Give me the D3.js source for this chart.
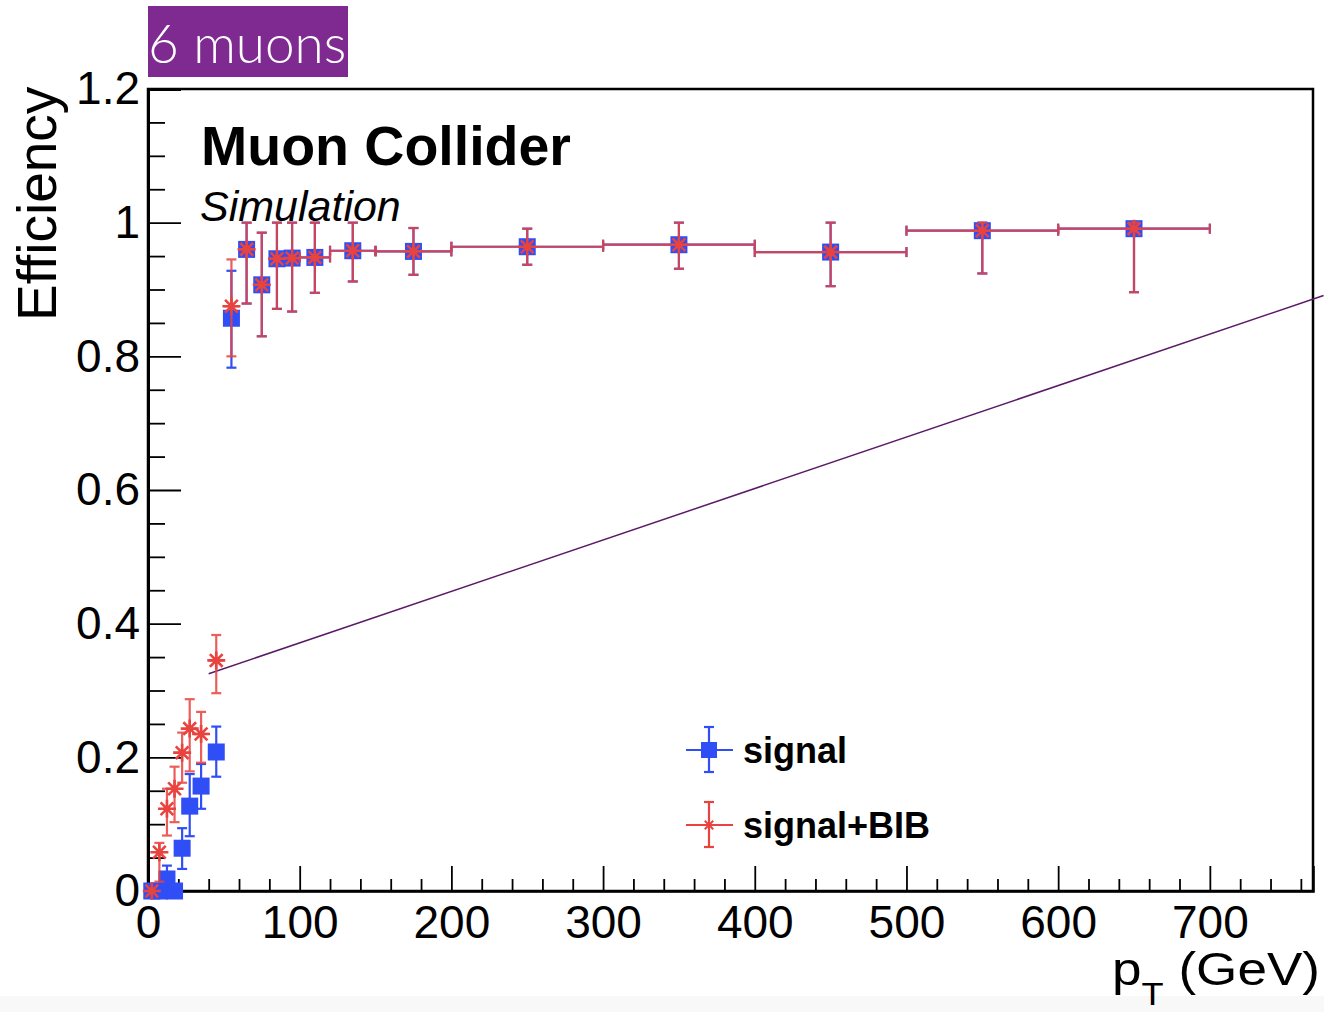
<!DOCTYPE html>
<html>
<head>
<meta charset="utf-8">
<script src="https://cdn.jsdelivr.net/npm/d3@7"></script>
<style>
  body { margin: 0; background: #fff; }
  svg { display: block; }
  text { font-family: "Liberation Sans", Arial, sans-serif; }
</style>
</head>
<body>
<svg id="chart" width="1324" height="1012"></svg>
<script>
// bin centres and half widths (GeV)
const binCenter = [2.5, 7.5, 12.5, 17.5, 22.5, 27.5, 35, 45, 55, 65, 75, 85, 95, 110, 135, 175, 250, 350, 450, 550, 650];
const binHalf   = [2.5, 2.5, 2.5, 2.5, 2.5, 2.5, 5, 5, 5, 5, 5, 5, 5, 10, 15, 25, 50, 50, 50, 50, 50];

// signal (blue)
const sigEff = [0, 0, 0.018, 0, 0.064, 0.127, 0.157, 0.208, 0.857, 0.960, 0.907, 0.946, 0.947, 0.948, 0.958, 0.957, 0.964, 0.967, 0.956, 0.988, 0.991];
const sigUp  = [0, 0, 0.020, 0, 0.030, 0.048, 0.033, 0.038, 0.071, 0.040, 0.078, 0.054, 0.053, 0.052, 0.042, 0.035, 0.027, 0.033, 0.044, 0.012, 0.009];
const sigLo  = [0, 0, 0.018, 0, 0.031, 0.045, 0.034, 0.037, 0.074, 0.081, 0.077, 0.075, 0.080, 0.053, 0.046, 0.035, 0.027, 0.036, 0.051, 0.064, 0.095];

// signal+BIB (red)
const bibEff = [0, 0.058, 0.123, 0.153, 0.207, 0.243, 0.235, 0.345, 0.875, 0.960, 0.907, 0.946, 0.947, 0.948, 0.958, 0.957, 0.964, 0.967, 0.956, 0.988, 0.991];
const bibUp  = [0, 0.014, 0.030, 0.033, 0.030, 0.044, 0.033, 0.038, 0.070, 0.040, 0.078, 0.054, 0.053, 0.052, 0.042, 0.035, 0.027, 0.033, 0.044, 0.012, 0.009];
const bibLo  = [0, 0.044, 0.040, 0.050, 0.045, 0.064, 0.043, 0.049, 0.075, 0.081, 0.077, 0.075, 0.080, 0.053, 0.046, 0.035, 0.027, 0.036, 0.051, 0.064, 0.095];

const xTicks = [0, 100, 200, 300, 400, 500, 600, 700];
const xTickLabels = ["0", "100", "200", "300", "400", "500", "600", "700"];
const yTicks = [0, 0.2, 0.4, 0.6, 0.8, 1.0, 1.2];
const yTickLabels = ["0", "0.2", "0.4", "0.6", "0.8", "1", "1.2"];

// annotation line (data coords)
const arrowFrom = [40, 0.325];
const arrowTo = [775, 0.891];

const blue = "#2f4ef6";
const red = "#e8433f";

const svg = d3.select("#chart");
const W = 1324, H = 1012;
const fLeft = 148, fTop = 89, fRight = 1313, fBottom = 891;

svg.append("rect").attr("x", 0).attr("y", 996).attr("width", W).attr("height", H - 996).attr("fill", "#f8f8f8");

const x = d3.scaleLinear().domain([0, 768]).range([fLeft, fRight]);
const y = d3.scaleLinear().domain([0, 1.2]).range([fBottom, fTop]);

// title box
svg.append("rect").attr("x", 148).attr("y", 6).attr("width", 200).attr("height", 71).attr("fill", "#7f2a90");
svg.append("text").attr("x", 148).attr("y", 63)
    .style("font-family", "Lato, 'Open Sans', sans-serif").style("font-weight", 300)
    .attr("font-size", 53).attr("fill", "#fff").text("6 muons");

// frame
svg.append("rect").attr("x", fLeft).attr("y", fTop).attr("width", fRight - fLeft).attr("height", fBottom - fTop)
    .attr("fill", "none").attr("stroke", "#000").attr("stroke-width", 2.5);

// x axis
const xMinor = d3.range(0, 769, 20).filter(v => v % 100 !== 0);
svg.append("g").attr("transform", `translate(0,${fBottom})`)
    .call(d3.axisBottom(x).tickValues(xMinor).tickSize(-12).tickFormat(""))
    .call(g => g.select(".domain").remove());
svg.append("g").attr("transform", `translate(0,${fBottom})`)
    .call(d3.axisBottom(x).tickValues(xTicks).tickSize(-25).tickPadding(14)
        .tickFormat((d, i) => xTickLabels[i]))
    .call(g => g.select(".domain").attr("stroke-width", 2.5))
    .call(g => g.selectAll("text").attr("font-size", 46).attr("fill", "#000")
        .style("font-family", "'Liberation Sans', Arial, sans-serif"));
svg.selectAll(".tick line").attr("stroke-width", 1.8);

// y axis
const yMinor = d3.range(0, 1.2001, 0.05).filter((v, i) => i % 4 !== 0);
svg.append("g").attr("transform", `translate(${fLeft},0)`)
    .call(d3.axisLeft(y).tickValues(yMinor).tickSize(-17).tickFormat(""))
    .call(g => g.select(".domain").remove())
    .call(g => g.selectAll("line").attr("stroke-width", 1.8));
svg.append("g").attr("transform", `translate(${fLeft},0)`)
    .call(d3.axisLeft(y).tickValues(yTicks).tickSize(-33).tickPadding(8)
        .tickFormat((d, i) => yTickLabels[i]))
    .call(g => g.select(".domain").attr("stroke-width", 3))
    .call(g => g.selectAll("line").attr("stroke-width", 1.8))
    .call(g => g.selectAll("text").attr("font-size", 46).attr("fill", "#000")
        .style("font-family", "'Liberation Sans', Arial, sans-serif"));

// axis titles
svg.append("text").attr("transform", "translate(56,321) rotate(-90)")
    .attr("font-size", 55).attr("fill", "#000").text("Efficiency");
const xt = svg.append("g").attr("transform", "translate(1320,985) scale(1.13,1)")
    .append("text").attr("text-anchor", "end").attr("font-size", 47).attr("fill", "#000");
xt.append("tspan").text("p");
xt.append("tspan").attr("font-size", 32).attr("dy", 20).text("T");
xt.append("tspan").attr("dy", -20).text(" (GeV)");

// labels
svg.append("text").attr("x", 201).attr("y", 165).attr("font-size", 55.5).attr("font-weight", "bold")
    .attr("fill", "#000").text("Muon Collider");
svg.append("text").attr("x", 200).attr("y", 221).attr("font-size", 43).attr("font-style", "italic")
    .attr("fill", "#000").text("Simulation");

// annotation line
svg.append("line")
    .attr("x1", x(arrowFrom[0])).attr("y1", y(arrowFrom[1]))
    .attr("x2", x(arrowTo[0])).attr("y2", y(arrowTo[1]))
    .attr("stroke", "#5a1a66").attr("stroke-width", 1.5);

function makeData(eff, up, lo) {
    return binCenter.map((c, i) => ({ x: c, hw: binHalf[i], y: eff[i], up: up[i], lo: lo[i] }));
}
const sigData = makeData(sigEff, sigUp, sigLo);
const bibData = makeData(bibEff, bibUp, bibLo);

const cap = 5;
function drawErrors(data, color, opacity) {
    const g = svg.append("g").attr("stroke", color).attr("stroke-width", 2.2).attr("opacity", opacity);
    data.forEach(d => {
        const cx = x(d.x), cy = y(d.y);
        const x0 = x(d.x - d.hw), x1 = x(d.x + d.hw);
        g.append("line").attr("x1", x0).attr("x2", x1).attr("y1", cy).attr("y2", cy);
        if (x1 - x0 > 20) {
            g.append("line").attr("x1", x0).attr("x2", x0).attr("y1", cy - cap).attr("y2", cy + cap);
            g.append("line").attr("x1", x1).attr("x2", x1).attr("y1", cy - cap).attr("y2", cy + cap);
        }
        if (d.up > 0 || d.lo > 0) {
            const yt = y(d.y + d.up), yb = y(d.y - d.lo);
            g.append("line").attr("x1", cx).attr("x2", cx).attr("y1", yt).attr("y2", yb);
            g.append("line").attr("x1", cx - cap).attr("x2", cx + cap).attr("y1", yt).attr("y2", yt);
            g.append("line").attr("x1", cx - cap).attr("x2", cx + cap).attr("y1", yb).attr("y2", yb);
        }
    });
}

function starPath(r) {
    const p = [];
    for (let k = 0; k < 4; k++) {
        const a = k * Math.PI / 4;
        p.push(`M${(-r * Math.cos(a)).toFixed(2)},${(-r * Math.sin(a)).toFixed(2)}L${(r * Math.cos(a)).toFixed(2)},${(r * Math.sin(a)).toFixed(2)}`);
    }
    return p.join("");
}

drawErrors(sigData, blue, 1);
svg.append("g").selectAll("rect").data(sigData).join("rect")
    .attr("x", d => x(d.x) - 8.5).attr("y", d => y(d.y) - 8.5)
    .attr("width", 17).attr("height", 17).attr("fill", blue);

drawErrors(bibData, red, 0.85);
svg.append("g").selectAll("path").data(bibData).join("path")
    .attr("transform", d => `translate(${x(d.x)},${y(d.y)})`)
    .attr("d", starPath(9)).attr("stroke", red).attr("stroke-width", 2.6).attr("fill", "none");

// legend
const legend = [
    { label: "signal", color: blue, cy: 750, type: "square" },
    { label: "signal+BIB", color: red, cy: 825, type: "star" }
];
legend.forEach(l => {
    const g = svg.append("g").attr("stroke", l.color).attr("stroke-width", 2.2);
    g.append("line").attr("x1", 686).attr("x2", 733).attr("y1", l.cy).attr("y2", l.cy);
    g.append("line").attr("x1", 709).attr("x2", 709).attr("y1", l.cy - 23).attr("y2", l.cy + 22);
    g.append("line").attr("x1", 704).attr("x2", 714).attr("y1", l.cy - 23).attr("y2", l.cy - 23);
    g.append("line").attr("x1", 704).attr("x2", 714).attr("y1", l.cy + 22).attr("y2", l.cy + 22);
    if (l.type === "square") {
        svg.append("rect").attr("x", 701).attr("y", l.cy - 8).attr("width", 16).attr("height", 16).attr("fill", l.color);
    } else {
        svg.append("path").attr("transform", `translate(709,${l.cy})`).attr("d", starPath(6))
            .attr("stroke", l.color).attr("stroke-width", 2).attr("fill", "none");
    }
    svg.append("text").attr("x", 743).attr("y", l.cy + 13).attr("font-size", 36).attr("font-weight", "bold")
        .attr("fill", "#000").text(l.label);
});
</script>
</body>
</html>
